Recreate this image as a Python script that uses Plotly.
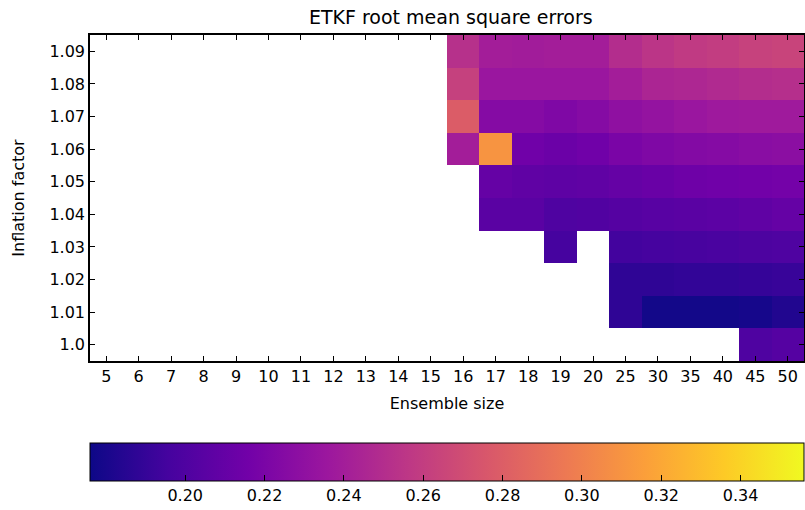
import plotly.graph_objects as go

ensemble_sizes = ["5", "6", "7", "8", "9", "10", "11", "12", "13", "14", "15",
                  "16", "17", "18", "19", "20", "25", "30", "35", "40", "45", "50"]
inflation_labels = ["1.0", "1.01", "1.02", "1.03", "1.04", "1.05", "1.06", "1.07", "1.08", "1.09"]

N = None
blank11 = [N] * 11
# values for columns 16,17,18,19,20,25,30,35,40,45,50 per inflation row
rmse_100 = [N, N, N, N, N, N, N, N, N, 0.200, 0.203]
rmse_101 = [N, N, N, N, N, 0.188, 0.178, 0.178, 0.178, 0.179, 0.183]
rmse_102 = [N, N, N, N, N, 0.188, 0.188, 0.189, 0.189, 0.190, 0.191]
rmse_103 = [N, N, N, 0.196, N, 0.195, 0.196, 0.197, 0.198, 0.199, 0.200]
rmse_104 = [N, 0.205, 0.205, 0.200, 0.201, 0.203, 0.204, 0.205, 0.206, 0.208, 0.210]
rmse_105 = [N, 0.210, 0.208, 0.207, 0.208, 0.210, 0.212, 0.214, 0.215, 0.216, 0.217]
rmse_106 = [0.240, 0.310, 0.215, 0.213, 0.215, 0.220, 0.222, 0.224, 0.225, 0.227, 0.228]
rmse_107 = [0.279, 0.225, 0.225, 0.222, 0.225, 0.230, 0.232, 0.235, 0.237, 0.238, 0.238]
rmse_108 = [0.262, 0.235, 0.235, 0.235, 0.235, 0.240, 0.245, 0.246, 0.248, 0.250, 0.251]
rmse_109 = [0.252, 0.240, 0.239, 0.240, 0.240, 0.250, 0.255, 0.258, 0.260, 0.263, 0.264]

rows = [rmse_100, rmse_101, rmse_102, rmse_103, rmse_104,
        rmse_105, rmse_106, rmse_107, rmse_108, rmse_109]
z = [blank11 + r for r in rows]

cb_ticks = [0.20, 0.22, 0.24, 0.26, 0.28, 0.30, 0.32, 0.34]

PLOT_H = 510 - 35 - 149

fig = go.Figure(go.Heatmap(
    x=ensemble_sizes, y=inflation_labels, z=z,
    colorscale="Plasma", zmin=0.176, zmax=0.356,
    hoverongaps=False,
    colorbar=dict(
        orientation="h",
        x=0, xanchor="left",
        y=-(443 - 361) / PLOT_H, yanchor="top",
        len=1, lenmode="fraction",
        thickness=38, thicknessmode="pixels",
        xpad=0, ypad=0,
        outlinewidth=1, outlinecolor="black",
        tickvals=cb_ticks, ticktext=[f"{v:.2f}" for v in cb_ticks],
        ticks="inside", ticklen=6, tickcolor="black",
        tickfont=dict(size=16, color="black", family="DejaVu Sans"),
    ),
))

fig.update_layout(
    width=805, height=510,
    margin=dict(l=90, r=1, t=35, b=149, autoexpand=False),
    paper_bgcolor="white", plot_bgcolor="white",
    font=dict(family="DejaVu Sans", color="black"),
    title=dict(text="ETKF root mean square errors", x=0.56, xanchor="center",
               y=1 - 17 / 510, yanchor="middle", font=dict(size=19)),
)
fig.update_xaxes(
    title=dict(text="Ensemble size", font=dict(size=16), standoff=13),
    type="category", showline=True, linecolor="black", linewidth=1.5, mirror="allticks",
    ticks="inside", ticklen=5, tickcolor="black", tickfont=dict(size=16),
    showgrid=False, zeroline=False,
)
fig.update_yaxes(
    title=dict(text="Inflation factor", font=dict(size=16), standoff=21),
    type="category", showline=True, linecolor="black", linewidth=1.5, mirror="allticks",
    ticks="inside", ticklen=5, tickcolor="black", tickfont=dict(size=16),
    showgrid=False, zeroline=False,
)

fig.write_html("out.html", config={"displayModeBar": False},
               post_script="document.body.style.margin='0';")
